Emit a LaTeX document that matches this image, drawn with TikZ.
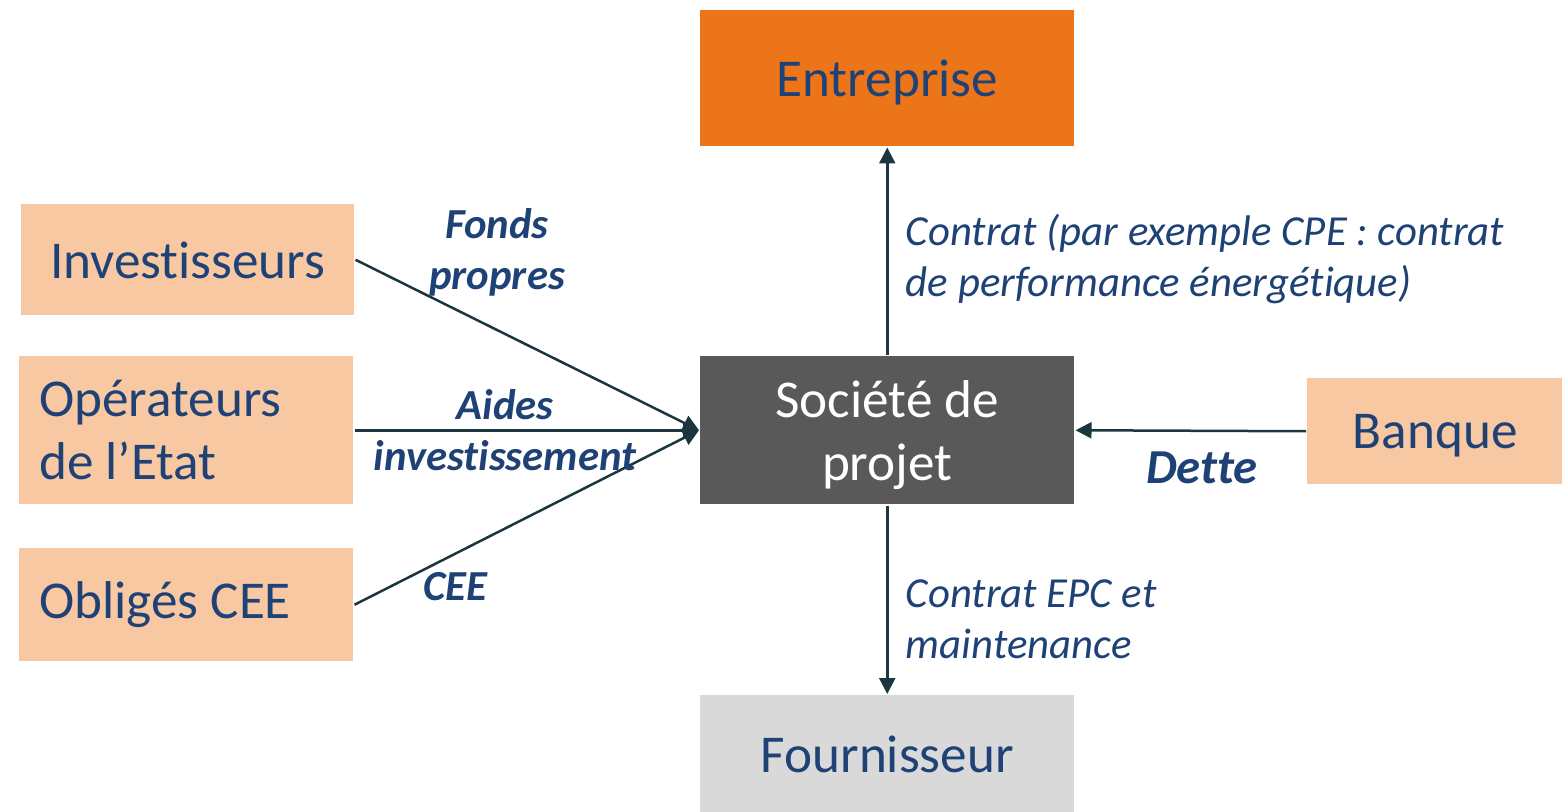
\documentclass[tikz,border=0pt]{standalone}
\usepackage{fontspec}
\setmainfont[Ligatures=NoCommon]{Carlito}
\usepackage{tikz}
\usetikzlibrary{arrows.meta}
\definecolor{peach}{HTML}{F8C8A2}
\definecolor{orangebox}{HTML}{EC751A}
\definecolor{greybox}{HTML}{595959}
\definecolor{lightbox}{HTML}{D9D9D9}
\definecolor{textblue}{HTML}{1F4276}
\definecolor{arrowcol}{HTML}{1C3640}

\begin{document}
\begin{tikzpicture}[x=0.5pt,y=-0.5pt,>={Triangle[length=8pt,width=8pt]},line width=1.25pt]
		\tikzstyle{box}=[rectangle,anchor=north west,inner sep=0pt,text=textblue,
			font=\fontsize{26.6}{31.5}\selectfont,align=flush center];
		\tikzstyle{cbox}=[box,text depth=0pt];
		\tikzstyle{leftbox}=[box,fill=peach,align=flush left,inner xsep=10pt];
		\tikzstyle{flow}=[->,draw=arrowcol];
		\tikzstyle{lbl}=[text=textblue,font=\fontsize{21.4}{25.5}\selectfont\itshape,align=flush left,anchor=west];
		\tikzstyle{blbl}=[text=textblue,font=\fontsize{21.4}{25.5}\selectfont\bfseries\itshape,align=flush center];
		\useasboundingbox (0,0) rectangle (1562,812);
		\node[cbox,fill=orangebox,minimum width=187pt,minimum height=68pt](ent) at (699,9){Entreprise};
		\node[cbox,fill=peach,minimum width=166.5pt,minimum height=55.5pt](inv) at (20,203){Investisseurs};
		\node[leftbox,minimum width=167pt,minimum height=74pt,text width=147pt](ope) at (18,355){Opérateurs\\de l’Etat};
		\node[leftbox,minimum width=167pt,minimum height=56.5pt,text width=147pt](obl) at (18,547){Obligés CEE};
		\node[cbox,fill=greybox,text=white,minimum width=187pt,minimum height=74pt](soc) at (699,355){Société de\\projet};
		\node[cbox,fill=peach,minimum width=128pt,minimum height=53pt](ban) at (1306,377){Banque};
		\node[cbox,fill=lightbox,minimum width=187pt,minimum height=59pt](fou) at (699,694){Fournisseur};

		\draw[flow](inv.east)--(soc.west);
		\draw[flow](ope.east)--(soc.west);
		\draw[flow](obl.east)--(soc.west);
		\draw[flow](soc.north)--(ent.south);
		\draw[flow](ban.west)--(soc.east);
		\draw[flow](soc.south)--(fou.north);

		\node[blbl](fonds) at (497,252){Fonds\\propres};
		\node[blbl](aides) at (505,430){Aides\\investissement};
		\node[blbl](cee) at (455,587){CEE};
		\node[blbl,font=\fontsize{24.4}{25.5}\selectfont\bfseries\itshape](dette) at (1202,468){Dette};
		\node[lbl](cpe) at (898,259){Contrat (par exemple CPE : contrat\\de performance énergétique)};
		\node[lbl](epc) at (898,619){Contrat EPC et\\maintenance};
	\end{tikzpicture}
\end{document}
